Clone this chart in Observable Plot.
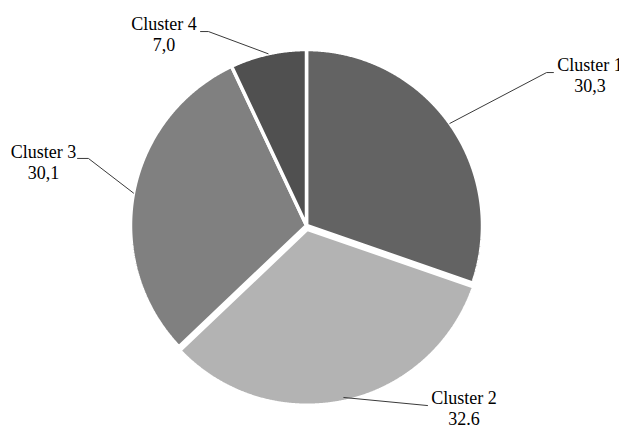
<!DOCTYPE html>
<html><head><meta charset="utf-8">
<script src="https://cdn.jsdelivr.net/npm/d3@7"></script>
<script src="https://cdn.jsdelivr.net/npm/@observablehq/plot@0.6"></script>
<style>body{margin:0;background:#fff;overflow:hidden} svg{overflow:visible}</style>
</head><body><div id="chart"></div>
<script>
// ---- data ----
const clusters = ["Cluster 1", "Cluster 2", "Cluster 3", "Cluster 4"];
const shares = [30.3, 32.6, 30.1, 7.0];
const valueLabels = ["30,3", "32.6", "30,1", "7,0"];

// ---- styling / layout (kept apart from the data) ----
const sliceColors = ["#636363", "#b3b3b3", "#808080", "#505050"];
const explode = [0, 0.022, 0, 0];               // radial offset, in radius units
const labelTextPos = [[1.611, 0.756], [0.895, -1.131], [-1.494, 0.267], [-0.810, 0.994]];
const leaderBends = [
  [[1.364, 0.869], [1.403, 0.869]],
  [[0.6875, -1.023]],
  [[-1.239, 0.381], [-1.301, 0.381]],
  [[-0.557, 1.102], [-0.602, 1.102]]
];

// ---- build slice geometry from the shares ----
const total = d3.sum(shares);
let acc = 0;
const slices = clusters.map((c, i) => {
  const a0 = acc / total * 2 * Math.PI;
  acc += shares[i];
  const a1 = acc / total * 2 * Math.PI;
  return {c, i, a0, a1, mid: (a0 + a1) / 2};
});
const polyPts = [];
slices.forEach(s => {
  const ox = explode[s.i] * Math.sin(s.mid), oy = explode[s.i] * Math.cos(s.mid);
  polyPts.push({c: s.c, x: ox, y: oy});
  const n = Math.max(2, Math.ceil((s.a1 - s.a0) / 0.005));
  for (let k = 0; k <= n; k++) {
    const a = s.a0 + (s.a1 - s.a0) * k / n;
    polyPts.push({c: s.c, x: ox + Math.sin(a), y: oy + Math.cos(a)});
  }
});
const leaderPts = [];
slices.forEach(s => {
  leaderPts.push({c: s.c, x: Math.sin(s.mid), y: Math.cos(s.mid)});
  leaderBends[s.i].forEach(([x, y]) => leaderPts.push({c: s.c, x, y}));
});
const labels = slices.map(s => ({
  c: s.c, x: labelTextPos[s.i][0], y: labelTextPos[s.i][1],
  text: s.c + "\n" + valueLabels[s.i]
}));

const chart = Plot.plot({
  width: 619,
  height: 427,
  x: {domain: [-1, 1], range: [130, 482], axis: null},
  y: {domain: [-1, 1], range: [401, 49], axis: null},
  color: {domain: clusters, range: sliceColors},
  marks: [
    Plot.line(polyPts, {x: "x", y: "y", z: "c", fill: "c", stroke: "white", strokeWidth: 3.5,
      strokeLinejoin: "miter", curve: "linear-closed"}),
    Plot.line(leaderPts, {x: "x", y: "y", z: "c", stroke: "#3a3a3a", strokeWidth: 1}),
    Plot.text(labels, {x: "x", y: "y", text: "text", textAnchor: "middle", lineAnchor: "bottom",
      lineHeight: 1.167, fontFamily: "Liberation Serif", fontSize: 18, fill: "#000"})
  ]
});
chart.style.background = "white";
document.getElementById("chart").appendChild(chart);
</script>
</body></html>
